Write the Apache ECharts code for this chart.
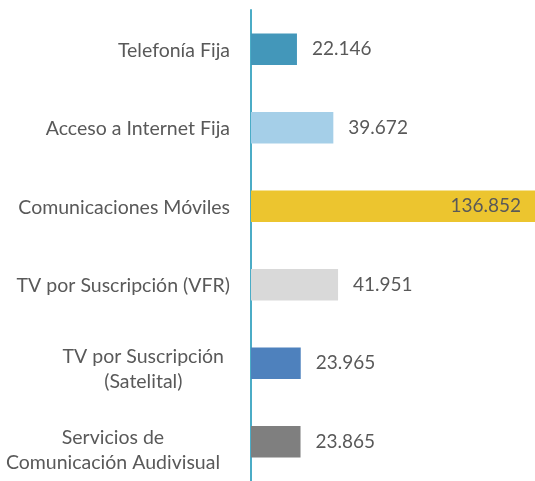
<!DOCTYPE html>
<html><head><meta charset="utf-8">
<script src="https://cdn.jsdelivr.net/npm/echarts@6/dist/echarts.min.js"></script>
<style>html,body{margin:0;padding:0;background:#fff}#c{width:535px;height:481px}</style>
</head><body><div id="c"></div>
<script>
const categories = ["Telefonía Fija","Acceso a Internet Fija","Comunicaciones Móviles","TV por Suscripción (VFR)","TV por Suscripción\n(Satelital)","Servicios de\nComunicación Audivisual"];
const values = [22.146, 39.672, 136.852, 41.951, 23.965, 23.865];
const valueLabels = ["22.146","39.672","136.852","41.951","23.965","23.865"];
const colors = ["#4397BA","#A5CFE8","#ECC52F","#D9D9D9","#4E81BD","#7F7F7F"];
const labelPads = [[2,0,0,0],[2,0,0,0],[2,0,0,0],[2,0,0,0],[12,6,0,0],[16,10,0,0]];

const chart = echarts.init(document.getElementById('c'));
chart.setOption({
  animation:false,
  grid:{left:251,right:0,top:10,height:479},
  xAxis:{type:'value',min:0,max:'dataMax',show:false},
  yAxis:{type:'category',inverse:true,
    data:categories.map((c,i)=>({value:c,textStyle:{padding:labelPads[i]}})),
    axisLine:{show:true,lineStyle:{color:'#4BACC6',width:2}},
    axisTick:{show:false},
    axisLabel:{margin:21,color:'#595959',fontFamily:'Lato',fontSize:19.5,lineHeight:25,align:'right',
      formatter:v=>{
        const lines=v.split('\n');
        if(lines.length===1) return v;
        return lines.map(l=>'{c|'+l+'}').join('\n');
      },
      rich:{c:{align:'center',color:'#595959',fontFamily:'Lato',fontSize:19.5,lineHeight:25}}}},
  series:[{type:'bar',barWidth:'40%',
    data:values.map((v,i)=>({value:v,itemStyle:{color:colors[i]},
      label: i===2 ? {position:'insideRight',distance:14} : {}})),
    label:{show:true,position:'right',distance:15,color:'#595959',fontFamily:'Lato',fontSize:19,
      formatter:p=>valueLabels[p.dataIndex]}}]
});
</script></body></html>
